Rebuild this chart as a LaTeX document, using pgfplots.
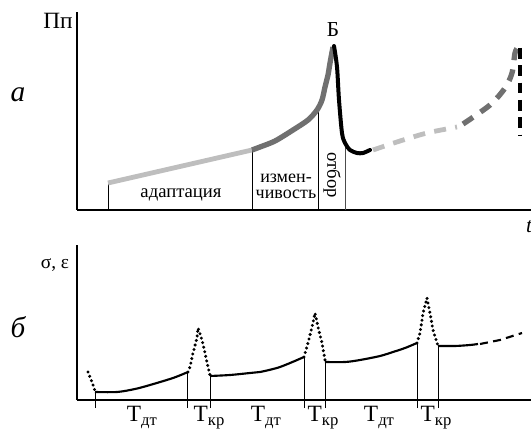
\documentclass[border=0pt]{standalone}
\usepackage{fontspec}
\setmainfont{Liberation Serif}
\usepackage{pgfplots}
\pgfplotsset{compat=1.18}
\definecolor{lgray}{RGB}{190,190,190}
\definecolor{dgray}{RGB}{112,112,112}

\newcommand{\Tsub}[1]{Т\raisebox{-0.4ex}{\fontsize{12.5}{14}\selectfont #1}}
\tikzset{lbl/.style={font=\fontsize{14}{15}\selectfont},
  tl/.style={anchor=base, font=\fontsize{17.5}{19}\selectfont}}

\begin{document}
\begin{tikzpicture}
\useasboundingbox (0,0) rectangle (398.25pt,321pt);
\pgfplotsset{base/.style={scale only axis, width=340.5pt, xmin=77, xmax=531, ymin=0,
    axis x line=bottom, axis y line=left, axis line style={-, line width=1.2pt},
    xtick=\empty, ytick=\empty, clip=false, enlargelimits=false, no markers}}

% panel a
\begin{axis}[base, height=148.5pt, ymax=198, at={(57.75pt,163.5pt)}, anchor=south west]
\addplot[black, line width=0.6pt] coordinates {(108,0) (108,27)};
\addplot[black, line width=0.6pt] coordinates {(252,0) (252,60)};
\addplot[black, line width=0.6pt] coordinates {(318,0) (318,100)};
\addplot[black!70, line width=0.6pt] coordinates {(345,0) (345,66)};

\addplot[lgray, line width=3.6pt] coordinates {(108,27) (252,60)};
\addplot[dgray, line width=4pt, smooth, line join=round] coordinates {
    (252,60) (260,63) (275,69) (293,80) (308,90) (317,100) (322,110)
    (325,123) (328,135) (330,147) (333,163)};
\addplot[black, line width=3pt, smooth, line join=round, line cap=round] coordinates {
    (334,164) (337,143) (339,110) (342,77) (345,67) (350,60) (357,57) (363,57) (370,60)};
\addplot[lgray, line width=3.6pt, dash pattern=on 9pt off 7pt, smooth] coordinates {
    (373,60) (400,69) (427,77) (457,83)};
\addplot[dgray, line width=4pt, dash pattern=on 9pt off 7pt, smooth] coordinates {
    (463,86) (490,105) (505,122) (512,137) (515,157) (518,163)};
\addplot[black, line width=3pt, dash pattern=on 8pt off 5pt] coordinates {(520,162) (520,75)};

\node[font=\fontsize{17.5}{19}\selectfont] at (axis cs:58,189) {Пп};
\node[font=\fontsize{22}{24}\selectfont\itshape] at (axis cs:18,115) {а};
\node[font=\fontsize{16}{18}\selectfont] at (axis cs:333,180) {Б};
\node[lbl] at (axis cs:181,15) {адаптация};
\node[align=center, inner sep=0pt, font=\fontsize{13.5}{12}\selectfont] at (axis cs:286,24) {измен-\\чивость};
\node[lbl, rotate=-90] at (axis cs:332,35) {отбор};
\node[font=\fontsize{16}{17}\selectfont\itshape] at (axis cs:529,-17) {t};
\end{axis}

% panel b
\begin{axis}[base, height=116.25pt, ymax=155, at={(57.75pt,21pt)}, anchor=south west]
\addplot[black, line width=0.6pt] coordinates {(95,-8) (95,8)};
\addplot[black, line width=0.6pt] coordinates {(187,-8) (187,28)};
\addplot[black, line width=0.6pt] coordinates {(210,-8) (210,24)};
\addplot[black, line width=0.6pt] coordinates {(304,-8) (304,43)};
\addplot[black, line width=0.6pt] coordinates {(325,-8) (325,38)};
\addplot[black, line width=0.6pt] coordinates {(417,-8) (417,57)};
\addplot[black, line width=0.6pt] coordinates {(438,-8) (438,54)};

% dotted transitions
\addplot[black, line width=2.5pt, line cap=round, dash pattern=on 0pt off 3.5pt] coordinates {
    (88,28) (92,18) (95,9)};
\addplot[black, line width=2.5pt, line cap=round, dash pattern=on 0pt off 3.5pt] coordinates {
    (188,28) (190,33) (193,47) (197,62) (198,72) (200,66) (202,60) (205,47) (208,33) (210,25)};
\addplot[black, line width=2.5pt, line cap=round, dash pattern=on 0pt off 3.5pt] coordinates {
    (304,43) (308,57) (312,73) (315,87) (318,73) (322,57) (325,40)};
\addplot[black, line width=2.5pt, line cap=round, dash pattern=on 0pt off 3.5pt] coordinates {
    (417,57) (420,67) (423,87) (427,102) (430,87) (433,70) (438,54)};

% solid segments
\addplot[black, line width=1.6pt, smooth] coordinates {
    (95,8) (117,8) (135,11) (150,15) (173,22) (188,28)};
\addplot[black, line width=1.6pt, smooth] coordinates {
    (210,24) (230,25) (250,27) (260,28) (280,33) (304,43)};
\addplot[black, line width=1.6pt, smooth] coordinates {
    (325,38) (345,38) (360,40) (380,44) (393,48) (405,52) (417,57)};
\addplot[black, line width=1.6pt, smooth] coordinates {
    (438,54) (455,54) (470,55) (478,56)};
\addplot[black, line width=1.6pt, dash pattern=on 6pt off 4pt] coordinates {
    (480,56) (500,60) (522,67)};

\node[font=\fontsize{14.5}{16}\selectfont] at (axis cs:55,135) {σ, ε};
\node[font=\fontsize{22}{24}\selectfont\itshape] at (axis cs:18,73) {б};
\node[tl] at (axis cs:142,-21) {\Tsub{дт}};
\node[tl] at (axis cs:209,-21) {\Tsub{кр}};
\node[tl] at (axis cs:266,-21) {\Tsub{дт}};
\node[tl] at (axis cs:323,-21) {\Tsub{кр}};
\node[tl] at (axis cs:379,-21) {\Tsub{дт}};
\node[tl] at (axis cs:436,-21) {\Tsub{кр}};
\end{axis}
\end{tikzpicture}
\end{document}
